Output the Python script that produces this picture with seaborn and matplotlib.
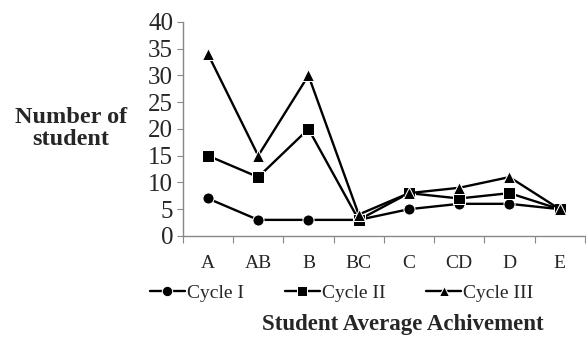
import pandas as pd
import matplotlib
matplotlib.use("Agg")
import matplotlib.pyplot as plt
import seaborn as sns

# grades and number of students per cycle
grades = ["A", "AB", "B", "BC", "C", "CD", "D", "E"]
cycle_1 = [7, 3, 3, 3, 5, 6, 6, 5]
cycle_2 = [15, 11, 20, 3, 8, 7, 8, 5]
cycle_3 = [34, 15, 30, 4, 8, 9, 11, 5]
series_names = ["Cycle I", "Cycle II", "Cycle III"]

rows = []
for name, vals in zip(series_names, [cycle_1, cycle_2, cycle_3]):
    for i, v in enumerate(vals):
        rows.append({"pos": i, "grade": grades[i], "count": v, "cycle": name})
df = pd.DataFrame(rows)

sns.set_style("white")
plt.rcParams["font.family"] = ["Liberation Serif", "DejaVu Serif"]

fig = plt.figure(figsize=(5.86, 3.38), dpi=100)
ax = fig.add_axes([0.312, 0.302, 0.686, 0.633])

sns.lineplot(data=df, x="pos", y="count", hue="cycle", style="cycle",
             palette=["black"] * 3, markers=["o", "s", "^"], dashes=False,
             markersize=8, linewidth=1.7, ax=ax)

ax.set_xlim(-0.5, 7.5)
ax.set_ylim(0, 40)
ax.set_yticks(range(0, 41, 5))
ax.set_yticklabels([str(v) for v in range(0, 41, 5)], fontsize=18)
ax.set_xticks([i + 0.5 for i in range(-1, 8)])
ax.set_xticklabels([])
ax.set_xticks(range(len(grades)), minor=True)
ax.set_xticklabels(grades, minor=True, fontsize=14)
ax.tick_params(axis="x", which="minor", length=0, pad=14)
ax.tick_params(axis="x", which="major", length=5, color="#888888", direction="out")
ax.tick_params(axis="y", length=4, color="#888888", direction="out", pad=3)
ax.tick_params(left=True, bottom=True)

sns.despine(ax=ax)
for s in ["left", "bottom"]:
    ax.spines[s].set_color("#888888")
    ax.spines[s].set_linewidth(1)

ax.set_xlabel("")
ax.set_ylabel("")
fig.text(0.121, 0.62, "Number of\nstudent", ha="center", va="center",
         fontsize=17.5, fontweight="bold", linespacing=1.05)
fig.text(0.688, 0.04, "Student Average Achivement", ha="center", va="center",
         fontsize=16.5, fontweight="bold")

handles, labels = ax.get_legend_handles_labels()
for h in handles:
    h.set_markersize(7.5)
ax.legend(handles, labels, loc="center left", bbox_to_anchor=(-0.082, -0.266),
          bbox_transform=ax.transAxes, ncol=3, frameon=False, fontsize=14,
          handlelength=1.8, handletextpad=0.1, columnspacing=2.1,
          borderaxespad=0, borderpad=0)

fig.savefig("out.png", dpi=100)
